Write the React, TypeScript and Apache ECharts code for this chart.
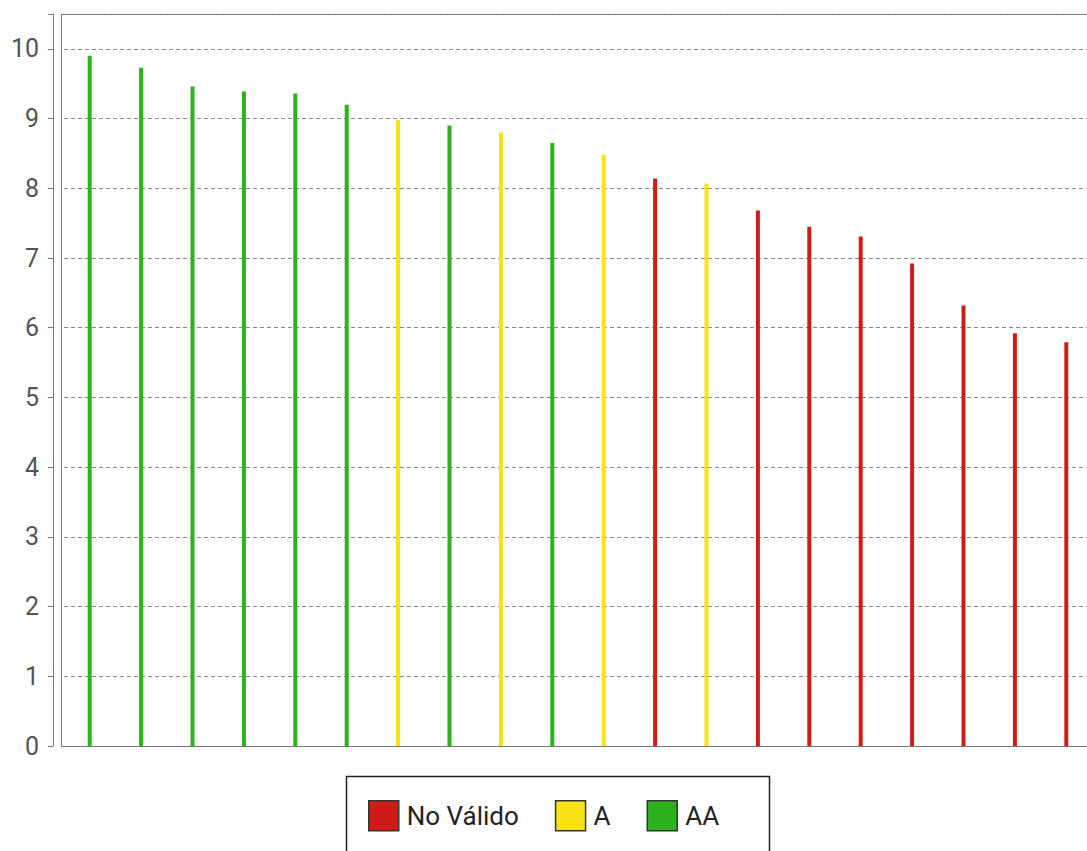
import React, { useEffect, useRef } from "react";
import * as echarts from "echarts";

const categories = ["1","2","3","4","5","6","7","8","9","10","11","12","13","14","15","16","17","18","19","20"];
const values = [9.9, 9.73, 9.46, 9.39, 9.36, 9.2, 8.98, 8.9, 8.8, 8.65, 8.48, 8.14, 8.07, 7.68, 7.45, 7.31, 6.92, 6.32, 5.92, 5.79];
const grades = ["AA","AA","AA","AA","AA","AA","A","AA","A","AA","A","No Válido","A","No Válido","No Válido","No Válido","No Válido","No Válido","No Válido","No Válido"];
const seriesNames = ["No Válido", "A", "AA"];
const seriesColors = ["#d01c18", "#f8e214", "#2cb21d"];
const yTicks = [0, 1, 2, 3, 4, 5, 6, 7, 8, 9, 10];

export default function App() {
  const ref = useRef<HTMLDivElement>(null);
  useEffect(() => {
    if (!ref.current) return;
    const chart = echarts.init(ref.current, undefined, { renderer: "svg" });
    const series = seriesNames.map((name, si) => ({
      name,
      type: "bar",
      stack: "g",
      barWidth: 4,
      itemStyle: { color: seriesColors[si] },
      data: values.map((v, i) => (grades[i] === name ? v : "-")),
    }));
    chart.setOption({
      animation: false,
      textStyle: { fontFamily: "Roboto" },
      grid: {
        left: 64,
        top: 14,
        bottom: 105,
        right: 28,
        show: false,
      },
      xAxis: {
        type: "category",
        data: categories,
        axisLine: { show: true, lineStyle: { color: "#777" } },
        axisTick: { show: false },
        axisLabel: { show: false },
      },
      yAxis: {
        type: "value",
        min: 0,
        max: 10.5,
        interval: 1,
        offset: 11,
        axisLine: { show: true, lineStyle: { color: "#777" } },
        axisTick: { show: true, length: 5, lineStyle: { color: "#777" } },
        axisLabel: {
          color: "#555",
          fontSize: 25,
          margin: 14,
          fontFamily: "Roboto",
          formatter: (v: number) => (yTicks.includes(v) ? String(v) : ""),
        },
        splitLine: { show: true, lineStyle: { color: "#888", type: [4, 3], width: 1 } },
      },
      legend: {
        left: 368,
        top: 800,
        padding: 0,
        itemWidth: 30,
        itemHeight: 30,
        itemGap: 36,
        icon: "rect",
        itemStyle: { borderColor: "#333", borderWidth: 1.5 },
        textStyle: { fontSize: 26, color: "#222", fontFamily: "Roboto", padding: [0, 0, 0, 3] },
        data: seriesNames,
      },
      graphic: [
        {
          type: "rect",
          left: 344,
          top: 774,
          shape: { width: 423, height: 100 },
          style: { fill: "none", stroke: "#222", lineWidth: 1.5 },
          z: -1,
        },
        {
          type: "line",
          shape: { x1: 61.5, y1: 14, x2: 61.5, y2: 746 },
          style: { stroke: "#777", lineWidth: 1 },
        },
        {
          type: "line",
          shape: { x1: 61, y1: 14.5, x2: 1120, y2: 14.5 },
          style: { stroke: "#777", lineWidth: 1 },
        },
        {
          type: "line",
          shape: { x1: 61, y1: 746.5, x2: 64, y2: 746.5 },
          style: { stroke: "#777", lineWidth: 1 },
        },
      ],
      series,
    });
    return () => chart.dispose();
  }, []);
  return (
    <div style={{ position: "absolute", left: 0, top: 0, width: 1087, height: 851, overflow: "hidden" }}>
      <div ref={ref} style={{ width: 1120, height: 851 }} />
    </div>
  );
}
